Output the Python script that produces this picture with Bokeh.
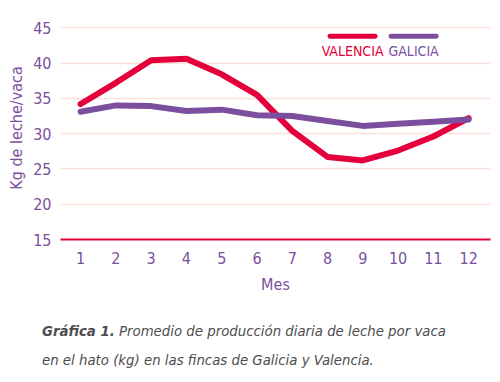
from bokeh.plotting import figure
from bokeh.layouts import column
from bokeh.models import Range1d, Label, BoxAnnotation, FixedTicker, Div
from bokeh.embed import file_html
from bokeh.resources import INLINE

meses = [1, 2, 3, 4, 5, 6, 7, 8, 9, 10, 11, 12]
valencia = [34.2, 37.2, 40.4, 40.6, 38.4, 35.5, 30.4, 26.7, 26.2, 27.6, 29.6, 32.2]
galicia = [33.1, 34.0, 33.9, 33.2, 33.4, 32.6, 32.5, 31.8, 31.1, 31.4, 31.7, 32.0]
y_ticks = [15, 20, 25, 30, 35, 40, 45]

RED = "#E4003A"
PURPLE = "#7B4F9E"
GRID = "#FCE1DA"
FONT = "DejaVu Sans Condensed"

p = figure(width=500, height=300, output_backend="svg", toolbar_location=None,
           x_range=Range1d(0.43, 12.62), y_range=Range1d(15, 46.6),
           min_border_left=60, min_border_right=10, min_border_top=16, min_border_bottom=61)
p.outline_line_color = None
p.background_fill_color = "white"

p.line(meses, valencia, line_color=RED, line_width=6, line_join="round", line_cap="round")
p.line(meses, galicia, line_color=PURPLE, line_width=6, line_join="round", line_cap="round")

p.xaxis.ticker = FixedTicker(ticks=meses)
p.yaxis.ticker = FixedTicker(ticks=y_ticks)
p.xgrid.grid_line_color = None
p.ygrid.grid_line_color = GRID
p.ygrid.grid_line_width = 1.5

for ax in (p.xaxis, p.yaxis):
    ax.major_tick_line_color = None
    ax.minor_tick_line_color = None
    ax.major_label_text_color = PURPLE
    ax.major_label_text_font = FONT
    ax.major_label_text_font_size = "16px"
    ax.axis_label_text_color = PURPLE
    ax.axis_label_text_font = FONT
    ax.axis_label_text_font_size = "16px"
    ax.axis_label_text_font_style = "normal"

p.xaxis.axis_line_color = RED
p.xaxis.axis_line_width = 2
p.yaxis.axis_line_color = None
p.xaxis.major_label_standoff = 6
p.yaxis.major_label_standoff = 3
p.xaxis.axis_label = "Mes"
p.xaxis.axis_label_standoff = 8
p.yaxis.axis_label = "Kg de leche/vaca"
p.yaxis.axis_label_standoff = 4

# legend
p.add_layout(BoxAnnotation(left=8.0, right=9.42, bottom=43.45, top=44.15,
                           fill_color=RED, fill_alpha=1, line_color=None, border_radius=3))
p.add_layout(BoxAnnotation(left=9.73, right=11.15, bottom=43.45, top=44.15,
                           fill_color=PURPLE, fill_alpha=1, line_color=None, border_radius=3))
p.add_layout(Label(x=8.71, y=41.7, text="VALENCIA", text_color=RED, text_font=FONT,
                   text_font_size="14px", text_align="center", text_baseline="middle"))
p.add_layout(Label(x=10.44, y=41.7, text="GALICIA", text_color=PURPLE, text_font=FONT,
                   text_font_size="14px", text_align="center", text_baseline="middle"))

# caption
caption = Div(
    text=("<b>Gráfica 1.</b> Promedio de producción diaria de leche por vaca<br>"
          "en el hato (kg) en las fincas de Galicia y Valencia."),
    width=500, height=82,
    styles={"font-family": FONT, "font-style": "italic", "font-size": "14.8px",
            "color": "#4d4d4d", "line-height": "29px", "padding-left": "37px",
            "padding-top": "11px", "box-sizing": "border-box"})

layout = column(p, caption, spacing=0)
open("out.html", "w").write(file_html(layout, INLINE))
